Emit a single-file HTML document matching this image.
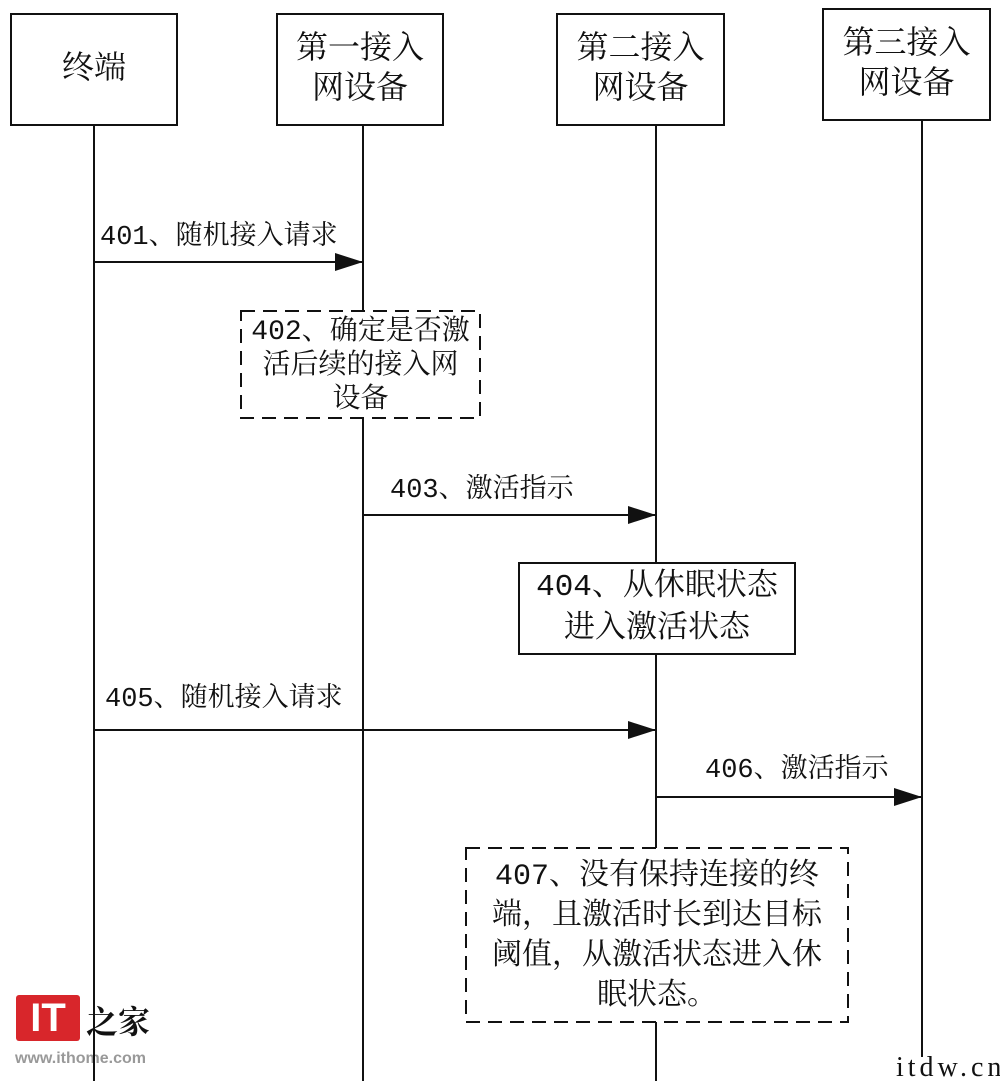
<!DOCTYPE html>
<html><head><meta charset="utf-8"><style>
html,body{margin:0;padding:0;background:#fff;}
body{width:1000px;height:1081px;position:relative;overflow:hidden;font-family:"Liberation Mono","Noto Serif CJK SC",serif;color:#111;}
.box{position:absolute;border:2px solid #111;box-sizing:border-box;background:#fff;display:flex;align-items:center;justify-content:center;text-align:center;font-size:32px;line-height:40px;}
.txt{position:absolute;text-align:center;white-space:nowrap;}
.lbl{position:absolute;font-size:27px;white-space:nowrap;line-height:30px;}
</style></head><body>
<div style="position:absolute;left:16px;top:995px;width:64px;height:46px;background:#d8262b;border-radius:3px;color:#fff;font:bold 40px 'Liberation Sans',sans-serif;line-height:46px;text-align:center;">IT</div>
<div style="position:absolute;left:86px;top:1000px;font-size:32px;font-weight:bold;color:#111;font-family:'Noto Serif CJK SC',serif;line-height:40px;">之家</div>
<div style="position:absolute;left:15px;top:1050px;font:bold 16px 'Liberation Sans',sans-serif;color:#999;">www.ithome.com</div>
<div style="position:absolute;left:896px;top:1052px;font:28px 'Liberation Serif',serif;letter-spacing:4px;color:#111;">itdw.cn</div>
<svg width="1000" height="1081" style="position:absolute;left:0;top:0">
<defs><marker id="a" markerWidth="28" markerHeight="18" refX="28" refY="9" orient="auto" markerUnits="userSpaceOnUse"><path d="M0,0 L28,9 L0,18 z" fill="#111"/></marker></defs>
<g stroke="#111" stroke-width="2">
<line x1="94" y1="125" x2="94" y2="1081"/>
<line x1="363" y1="125" x2="363" y2="1081"/>
<line x1="656" y1="125" x2="656" y2="1081"/>
<line x1="922" y1="120" x2="922" y2="1057"/>
<line x1="94" y1="262" x2="363" y2="262" marker-end="url(#a)"/>
<line x1="363" y1="515" x2="656" y2="515" marker-end="url(#a)"/>
<line x1="94" y1="730" x2="656" y2="730" marker-end="url(#a)"/>
<line x1="656" y1="797" x2="922" y2="797" marker-end="url(#a)"/>
<rect x="241" y="311" width="239" height="107" fill="#fff" stroke-dasharray="14,8"/>
<rect x="466" y="848" width="382" height="174" fill="#fff" stroke-dasharray="14,8"/>
</g>
</svg>
<div class="box" style="left:10px;top:13px;width:168px;height:113px;">终端</div>
<div class="box" style="left:276px;top:13px;width:168px;height:113px;">第一接入<br>网设备</div>
<div class="box" style="left:556px;top:13px;width:169px;height:113px;">第二接入<br>网设备</div>
<div class="box" style="left:822px;top:8px;width:169px;height:113px;">第三接入<br>网设备</div>
<div class="lbl" style="left:100px;top:223px;">401、随机接入请求</div>
<div class="txt" style="left:241px;top:316px;width:239px;font-size:28px;line-height:34px;">402、确定是否激<br>活后续的接入网<br>设备</div>
<div class="lbl" style="left:390px;top:476px;">403、激活指示</div>
<div class="box" style="left:518px;top:562px;width:278px;height:93px;font-size:31px;line-height:42px;">404、从休眠状态<br>进入激活状态</div>
<div class="lbl" style="left:105px;top:685px;">405、随机接入请求</div>
<div class="lbl" style="left:705px;top:756px;">406、激活指示</div>
<div class="txt" style="left:466px;top:857px;width:382px;font-size:30px;line-height:40px;">407、没有保持连接的终<br>端，且激活时长到达目标<br>阈值，从激活状态进入休<br>眠状态。</div>
</body></html>
